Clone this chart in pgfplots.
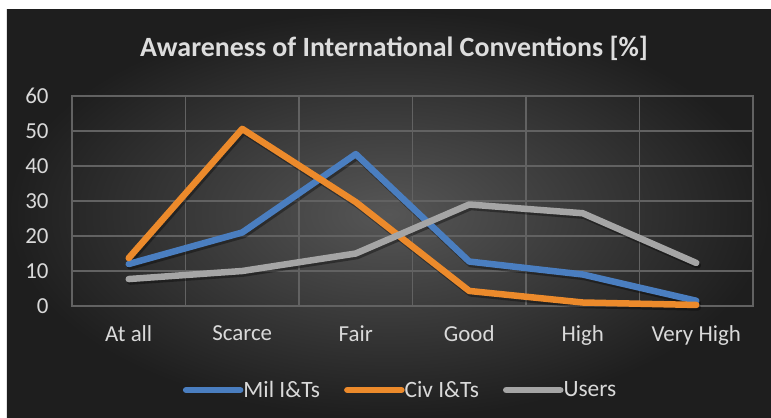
\documentclass[border=0pt]{standalone}
\usepackage{pgfplots}
\pgfplotsset{compat=1.18}
\usepackage{fontspec}
\setmainfont{Carlito}
\definecolor{mil}{HTML}{4A7EC0}
\definecolor{civ}{HTML}{EC8A2B}
\definecolor{usr}{HTML}{A5A5A5}
\definecolor{gridc}{HTML}{626262}
\definecolor{txt}{HTML}{D9D9D9}
\definecolor{bgin}{HTML}{565656}
\definecolor{bgout}{HTML}{1E1E1E}
\begin{document}
\begin{tikzpicture}
\fill[white] (-72bp,-112bp) rectangle (699bp,306bp);
\shade[inner color=bgin, outer color=bgout] (-65bp,-112bp) rectangle (699bp,296bp);
\begin{axis}[
  scale only axis, width=681bp, height=210bp,
  xmin=-0.5, xmax=5.5, ymin=0, ymax=60,
  xtick={0,1,2,3,4,5},
  xticklabels={At all,Scarce,Fair,Good,High,Very High},
  minor xtick={-0.5,0.5,1.5,2.5,3.5,4.5,5.5},
  ytick={0,10,...,60},
  /pgf/number format/assume math mode=true,
  xmajorgrids=false, xminorgrids=true, ymajorgrids=true,
  grid style={gridc, line width=1.2bp},
  minor grid style={gridc, line width=1.2bp},
  axis line style={gridc, line width=1.2bp},
  major tick length=0pt, minor tick length=0pt,
  tick style={draw=none},
  ticklabel style={font=\fontsize{23}{25}\selectfont, text=txt},
  xticklabel style={yshift=-16bp},
  yticklabel style={xshift=-20bp},
  legend style={at={(0.4825,-0.40)}, anchor=center, draw=none, fill=none,
    legend columns=3, font=\fontsize{23.5}{25}\selectfont, text=txt,
    /tikz/every even column/.append style={column sep=22bp},
    /tikz/every odd column/.append style={column sep=-2bp},
    inner sep=0pt},
  legend image code/.code={\draw[#1, line width=6.5bp, line cap=round] (0bp,0bp) -- (54bp,0bp);},
  every axis plot/.append style={line width=6.5bp, line join=round, line cap=round},
  clip=false,
]
\addplot[black, opacity=0.35, forget plot, transform canvas={yshift=-2.5bp, xshift=1.5bp}] coordinates {(0,12) (1,21) (2,43.4) (3,12.7) (4,9) (5,1.5)};
\addplot[black, opacity=0.35, forget plot, transform canvas={yshift=-2.5bp, xshift=1.5bp}] coordinates {(0,13.7) (1,50.6) (2,29.7) (3,4.3) (4,1) (5,0.3)};
\addplot[black, opacity=0.35, forget plot, transform canvas={yshift=-2.5bp, xshift=1.5bp}] coordinates {(0,7.7) (1,10) (2,15) (3,29) (4,26.5) (5,12.3)};
\addplot[mil] coordinates {(0,12) (1,21) (2,43.4) (3,12.7) (4,9) (5,1.5)};
\addplot[civ] coordinates {(0,13.7) (1,50.6) (2,29.7) (3,4.3) (4,1) (5,0.3)};
\addplot[usr] coordinates {(0,7.7) (1,10) (2,15) (3,29) (4,26.5) (5,12.3)};
\legend{Mil I\&Ts, Civ I\&Ts, Users}
\end{axis}
\node[text=txt!90!white, font=\fontsize{28}{30}\selectfont\bfseries] at (322bp,258bp) {Awareness of International Conventions [\%]};
\end{tikzpicture}
\end{document}
